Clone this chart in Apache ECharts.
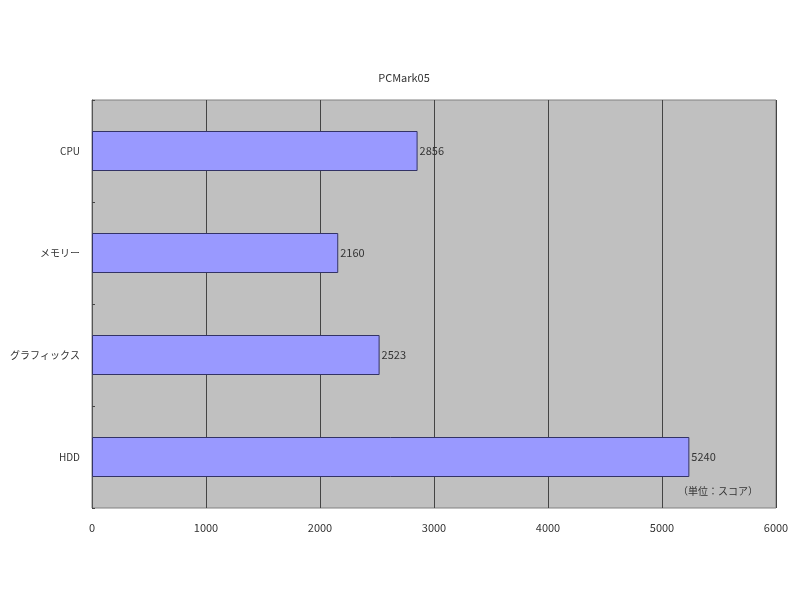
<!DOCTYPE html>
<html>
<head>
<meta charset="utf-8">
<script src="https://cdn.jsdelivr.net/npm/echarts@6/dist/echarts.min.js"></script>
<style>
  html, body { margin: 0; padding: 0; background: #fff; }
  #chart { width: 800px; height: 600px; }
</style>
</head>
<body>
<div id="chart"></div>
<script>
const categories = ['CPU', 'メモリー', 'グラフィックス', 'HDD'];
const scores = [2856, 2160, 2523, 5240];
const xTicks = [0, 1000, 2000, 3000, 4000, 5000, 6000];

const font = '"Noto Sans CJK JP", "DejaVu Sans", sans-serif';

const chart = echarts.init(document.getElementById('chart'));

chart.setOption({
  backgroundColor: '#ffffff',
  animation: false,
  title: {
    text: 'PCMark05',
    left: 399,
    top: 67,
    textAlign: 'center',
    textStyle: { fontSize: 11, fontWeight: 'normal', color: '#333', fontFamily: font }
  },
  grid: {
    left: 92,
    right: 24,
    top: 100,
    bottom: 92,
    show: true,
    backgroundColor: '#c0c0c0',
    borderColor: '#808080',
    borderWidth: 1
  },
  xAxis: {
    type: 'value',
    min: xTicks[0],
    max: xTicks[xTicks.length - 1],
    interval: 1000,
    axisLine: { show: false },
    axisTick: { show: false },
    axisLabel: {
      color: '#333',
      fontSize: 11,
      fontFamily: font,
      margin: 14,
      formatter: v => String(v)
    },
    splitLine: { show: true, lineStyle: { color: '#444', width: 1 } }
  },
  yAxis: {
    type: 'category',
    data: categories,
    inverse: true,
    axisLine: { show: true, lineStyle: { color: '#555' } },
    axisTick: { show: true, inside: true, length: 3, lineStyle: { color: '#444' } },
    axisLabel: { color: '#333', fontSize: 10, fontFamily: font, margin: 12 },
    splitLine: { show: false }
  },
  series: [{
    type: 'bar',
    data: scores,
    barWidth: 40,
    itemStyle: { color: '#9999ff', borderColor: '#333366', borderWidth: 1 },
    label: {
      show: true,
      position: 'right',
      distance: 2,
      color: '#333',
      fontSize: 11,
      fontFamily: font
    }
  }],
  graphic: [{
    type: 'text',
    left: 678,
    top: 486,
    style: { text: '（単位：スコア）', fill: '#333', fontSize: 10, fontFamily: font }
  }]
});
</script>
</body>
</html>
